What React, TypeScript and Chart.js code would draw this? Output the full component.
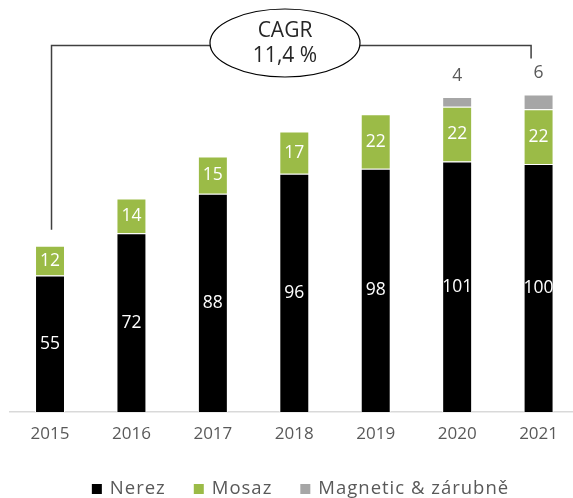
import React, { useEffect, useRef } from "react";
import { Chart, registerables } from "chart.js";

Chart.register(...registerables);

const years = ["2015", "2016", "2017", "2018", "2019", "2020", "2021"];
const nerez = [55, 72, 88, 96, 98, 101, 100];
const mosaz = [12, 14, 15, 17, 22, 22, 22];
const magnetic = [0, 0, 0, 0, 0, 4, 6];
const seriesNames = ["Nerez", "Mosaz", "Magnetic & zárubně"];
const seriesColors = ["#000000", "#9BBB47", "#A6A6A6"];
const cagrLines = ["CAGR", "11,4 %"];

const FONT = "'Open Sans', 'Noto Sans', sans-serif";

const labelPlugin = {
  id: "labelPlugin",
  afterDatasetsDraw(chart: any) {
    const ctx = chart.ctx;
    ctx.save();
    ctx.font = `17.5px ${FONT}`;
    ctx.textAlign = "center";
    ctx.textBaseline = "middle";
    chart.data.datasets.forEach((ds: any, di: number) => {
      const meta = chart.getDatasetMeta(di);
      meta.data.forEach((el: any, i: number) => {
        const v = ds.data[i];
        if (!v) return;
        if (di < 2) {
          ctx.fillStyle = "#ffffff";
          ctx.fillText(String(v), el.x, (el.y + el.base) / 2);
        } else {
          ctx.fillStyle = "#595959";
          ctx.fillText(String(v), el.x, el.y - 21);
        }
      });
    });
    ctx.restore();
  },
};

const legendPlugin = {
  id: "customLegend",
  afterDraw(chart: any) {
    const ctx = chart.ctx;
    ctx.save();
    ctx.font = `18.5px ${FONT}`;
    (ctx as any).letterSpacing = "1px";
    ctx.textBaseline = "middle";
    ctx.textAlign = "left";
    const box = 10;
    const gapText = 8;
    const gapItem = 29;
    const items = chart.data.datasets.map((ds: any) => ({
      label: ds.label,
      color: ds.backgroundColor,
      w: ctx.measureText(ds.label).width - 1,
    }));
    const total = items.reduce((s: number, it: any) => s + box + gapText + it.w, 0) + gapItem * (items.length - 1);
    let x = 300 - total / 2;
    const cy = 489;
    items.forEach((it: any) => {
      ctx.fillStyle = it.color;
      ctx.fillRect(x, cy - box / 2, box, box);
      ctx.fillStyle = "#595959";
      ctx.fillText(it.label, x + box + gapText, cy);
      x += box + gapText + it.w + gapItem;
    });
    ctx.restore();
  },
};

const cagrPlugin = {
  id: "cagrPlugin",
  afterDraw(chart: any) {
    const ctx = chart.ctx;
    const first = chart.getDatasetMeta(1).data[0];
    const xs = chart.scales.x;
    const x0 = xs.getPixelForValue(0) + 1.5;
    const x6 = xs.getPixelForValue(6) - 7.5;
    const yTop = 45.5;
    ctx.save();
    ctx.strokeStyle = "#404040";
    ctx.lineWidth = 1.5;
    ctx.beginPath();
    ctx.moveTo(x0, first.y - 16);
    ctx.lineTo(x0, yTop);
    ctx.lineTo(x6, yTop);
    ctx.lineTo(x6, yTop + 13);
    ctx.stroke();
    const cx = 285;
    const cy = 43;
    ctx.beginPath();
    ctx.ellipse(cx, cy, 75, 34, 0, 0, Math.PI * 2);
    ctx.fillStyle = "#ffffff";
    ctx.fill();
    ctx.lineWidth = 1.2;
    ctx.strokeStyle = "#000000";
    ctx.stroke();
    ctx.fillStyle = "#262626";
    ctx.font = `21px ${FONT}`;
    ctx.textAlign = "center";
    ctx.textBaseline = "middle";
    ctx.fillText(cagrLines[0], cx, 31);
    ctx.fillText(cagrLines[1], cx, 56);
    ctx.restore();
  },
};

export default function App() {
  const ref = useRef<HTMLCanvasElement | null>(null);
  useEffect(() => {
    if (!ref.current) return;
    const chart = new Chart(ref.current, {
      type: "bar",
      data: {
        labels: years,
        datasets: [
          { label: seriesNames[0], data: nerez, backgroundColor: seriesColors[0], borderColor: "#ffffff", borderWidth: 1 },
          { label: seriesNames[1], data: mosaz, backgroundColor: seriesColors[1], borderColor: "#ffffff", borderWidth: 1 },
          { label: seriesNames[2], data: magnetic, backgroundColor: seriesColors[2], borderColor: "#ffffff", borderWidth: 1 },
        ],
      },
      options: {
        responsive: false,
        animation: false,
        devicePixelRatio: 1,
        layout: { padding: { left: 9.3, right: 0.7, top: 15, bottom: 0 } },
        datasets: { bar: { categoryPercentage: 1, barPercentage: 0.368 } },
        scales: {
          x: {
            stacked: true,
            grid: { display: false, drawTicks: false },
            border: { display: true, color: "#D9D9D9", width: 1.5 },
            ticks: { color: "#595959", font: { family: FONT, size: 17 }, padding: 12 },
            afterFit(scale: any) {
              scale.height = 86;
            },
          },
          y: {
            stacked: true,
            display: false,
            min: 0,
            max: 160,
          },
        },
        plugins: {
          legend: { display: false },
          tooltip: { enabled: false },
        },
      },
      plugins: [labelPlugin, cagrPlugin, legendPlugin],
    });
    return () => chart.destroy();
  }, []);
  return (
    <div style={{ position: "fixed", left: 0, top: 0, width: 573, height: 498, overflow: "hidden", background: "#fff" }}>
      <canvas ref={ref} width={580} height={498} style={{ width: 580, height: 498, display: "block" }} />
    </div>
  );
}
